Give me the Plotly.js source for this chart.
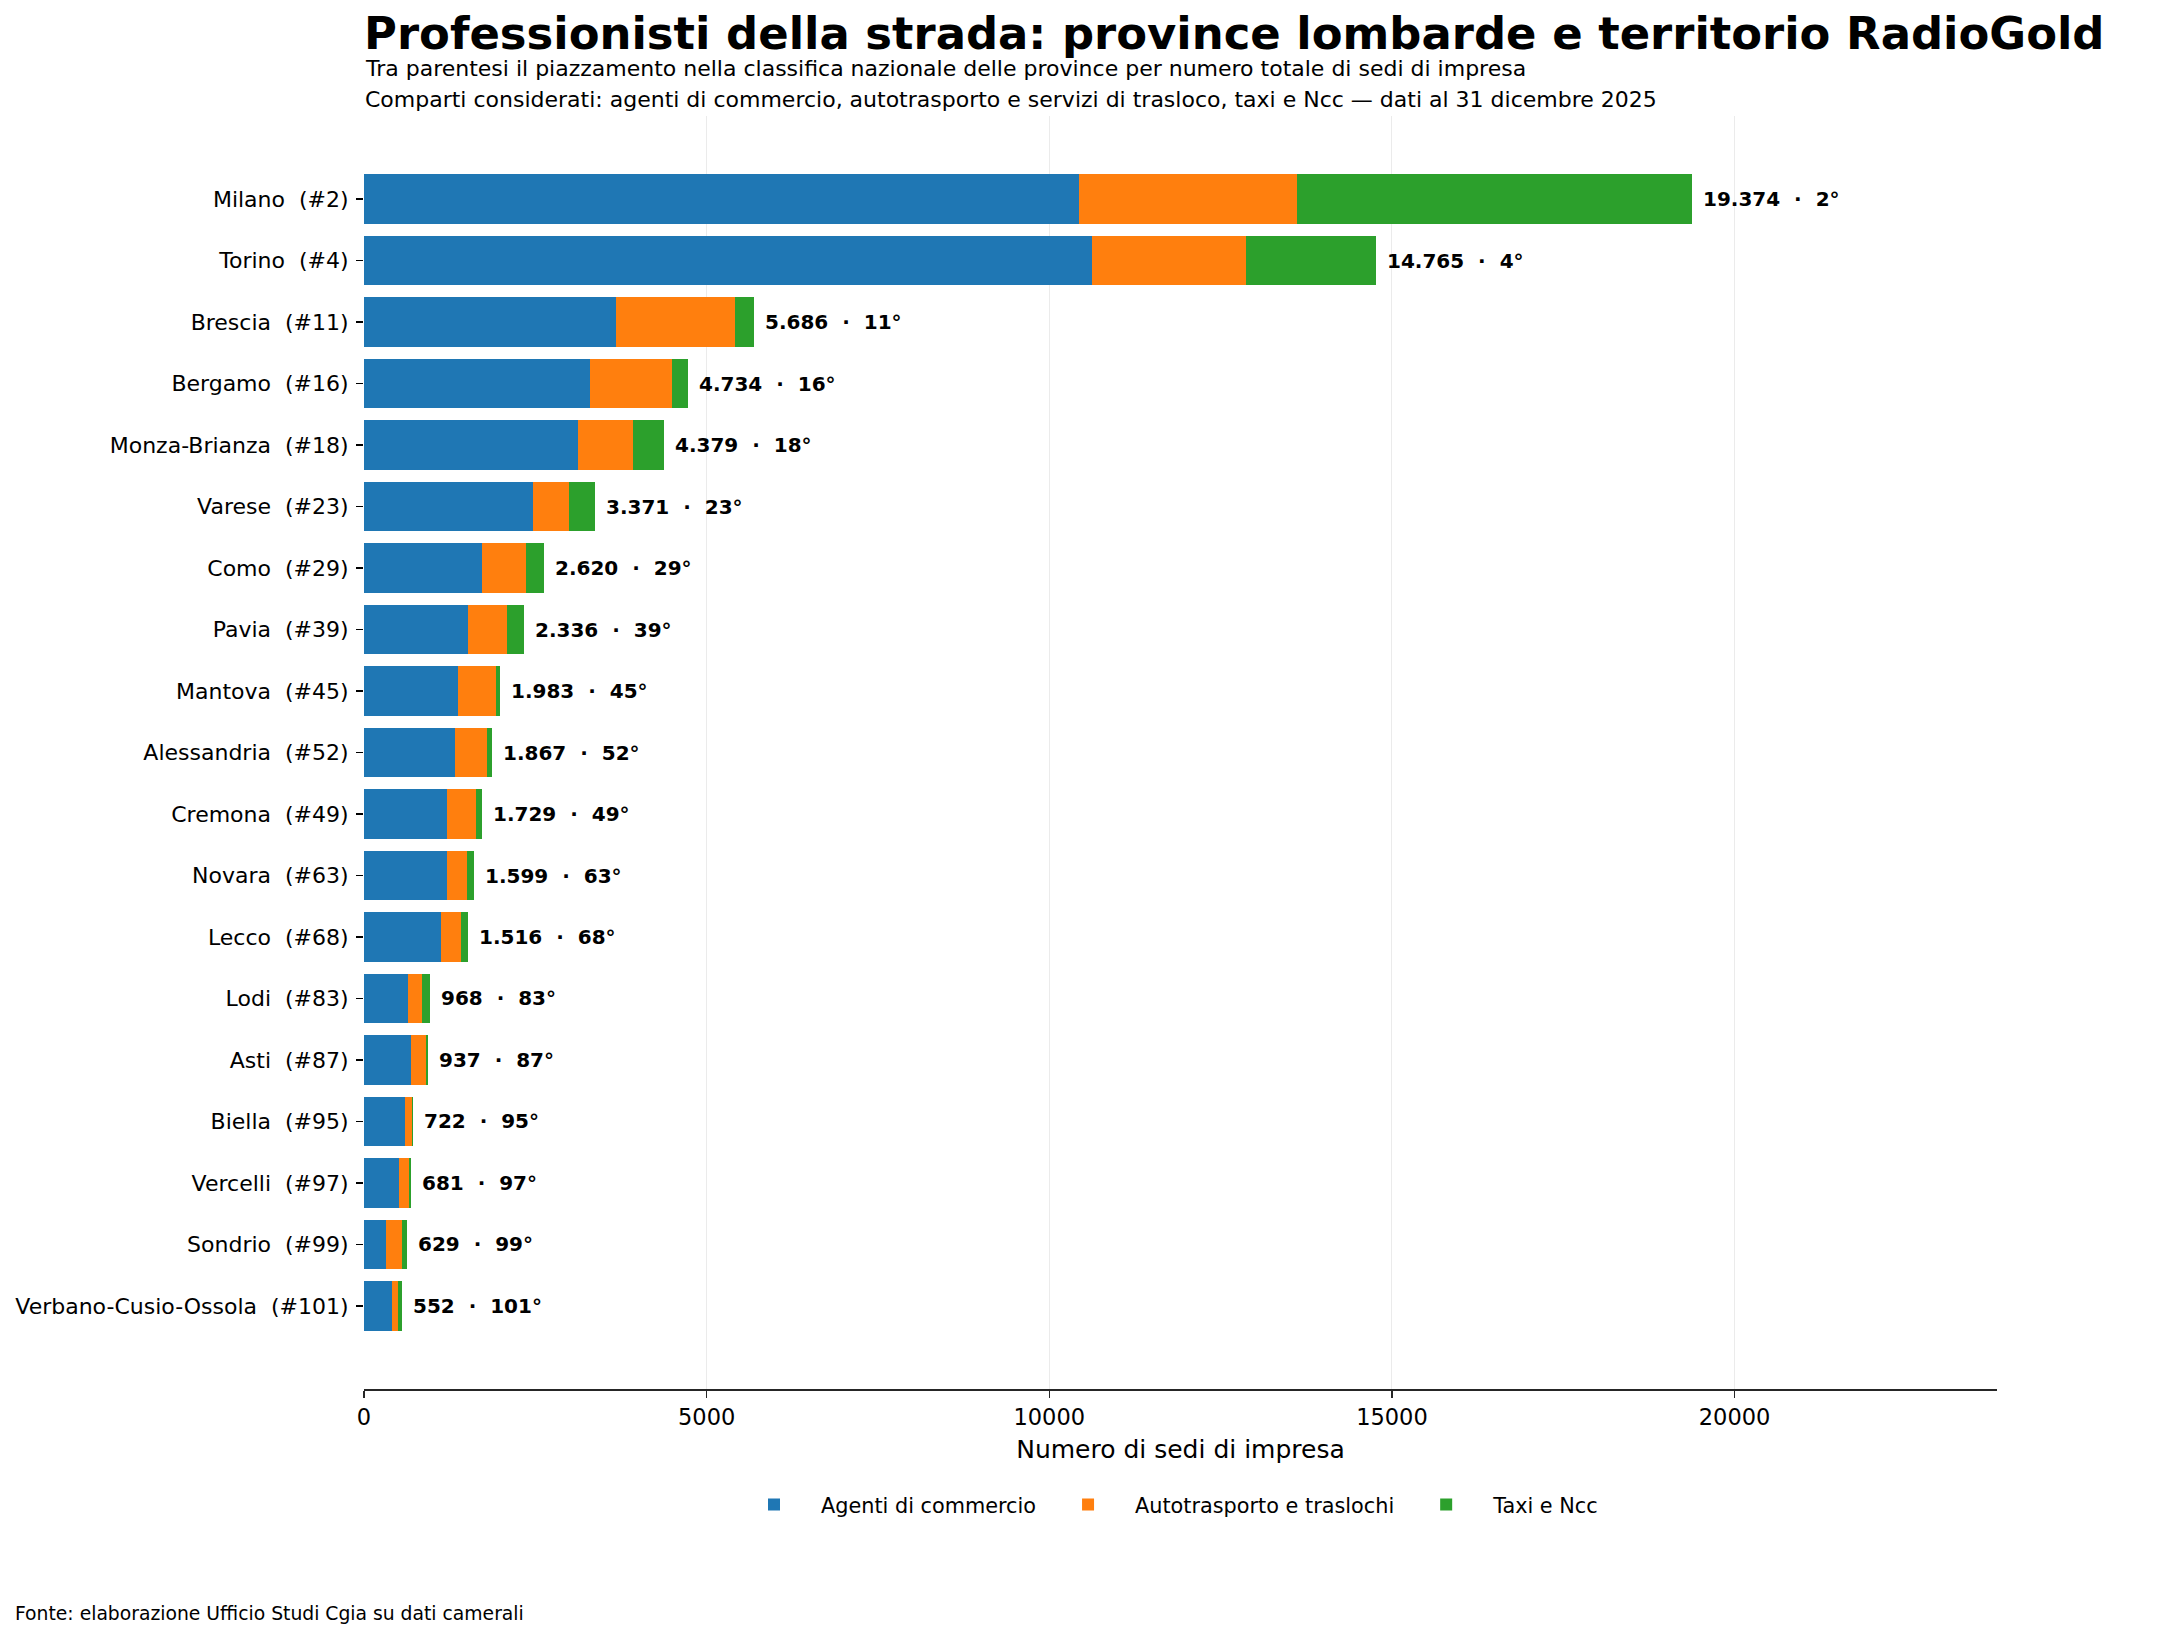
<!DOCTYPE html>
<html>
<head>
<meta charset="utf-8">
<script src="https://cdn.plot.ly/plotly-3.0.1.min.js"></script>
<style>
  html, body { margin: 0; padding: 0; background: #ffffff; }
  #chart { width: 2159px; height: 1638px; }
</style>
</head>
<body>
<div id="chart"></div>
<script>
// ---- Data ----
const provinces = ["Milano", "Torino", "Brescia", "Bergamo", "Monza-Brianza", "Varese", "Como", "Pavia",
  "Mantova", "Alessandria", "Cremona", "Novara", "Lecco", "Lodi", "Asti", "Biella", "Vercelli",
  "Sondrio", "Verbano-Cusio-Ossola"];
const nationalRank = [2, 4, 11, 16, 18, 23, 29, 39, 45, 52, 49, 63, 68, 83, 87, 95, 97, 99, 101];
const agentiCommercio = [10440, 10620, 3676, 3300, 3130, 2460, 1720, 1524, 1372, 1328, 1212, 1212, 1124, 642, 686, 599, 511, 321, 409];
const autotrasporto = [3180, 2248, 1740, 1199, 797, 530, 642, 559, 555, 468, 423, 292, 292, 205, 219, 102, 146, 234, 87];
const taxiNcc = [5754, 1897, 270, 235, 452, 381, 258, 253, 56, 71, 94, 95, 100, 121, 32, 21, 24, 74, 56];
const totals = [19374, 14765, 5686, 4734, 4379, 3371, 2620, 2336, 1983, 1867, 1729, 1599, 1516, 968, 937, 722, 681, 629, 552];
const seriesNames = ["Agenti di commercio", "Autotrasporto e traslochi", "Taxi e Ncc"];
const xTickValues = [0, 5000, 10000, 15000, 20000];

// ---- Text ----
const titleText = "Professionisti della strada: province lombarde e territorio RadioGold";
const subtitle1 = "Tra parentesi il piazzamento nella classifica nazionale delle province per numero totale di sedi di impresa";
const subtitle2 = "Comparti considerati: agenti di commercio, autotrasporto e servizi di trasloco, taxi e Ncc \u2014 dati al 31 dicembre 2025";
const xTitle = "Numero di sedi di impresa";
const sourceText = "Fonte: elaborazione Ufficio Studi Cgia su dati camerali";

// ---- Build ----
const NB = "\u00a0";
const yLabels = provinces.map((p, i) => p + NB + NB + "(#" + nationalRank[i] + ")");
const fmtIt = v => String(v).replace(/\B(?=(\d{3})+(?!\d))/g, ".");
const colors = ["#1f77b4", "#ff7f0e", "#2ca02c"];
const FONT = "DejaVu Sans, Verdana, sans-serif";

const seriesValues = [agentiCommercio, autotrasporto, taxiNcc];
const traces = seriesValues.map((vals, k) => ({
  type: "bar",
  orientation: "h",
  name: seriesNames[k],
  x: vals,
  y: yLabels,
  width: 0.8,
  marker: { color: colors[k], line: { width: 0 } },
  hoverinfo: "x+y+name"
}));

// plot area in pixels
const W = 2159, H = 1638;
const L = 364, R = 1997, T = 116, B = 1389;
const PH = B - T, PW = R - L;
const py = yPix => 1 + (T - yPix) / PH;   // pixel -> paper y
const px = xPix => (xPix - L) / PW;        // pixel -> paper x

const annotations = totals.map((t, i) => ({
  x: t, y: yLabels[i], xref: "x", yref: "y",
  text: "<b>" + fmtIt(t) + NB + NB + "\u00b7" + NB + NB + nationalRank[i] + "\u00b0</b>",
  showarrow: false, xanchor: "left", yanchor: "middle", xshift: 9,
  font: { family: FONT, size: 20, color: "#000000" }
}));

annotations.push(
  { xref: "paper", yref: "paper", x: px(364), y: py(68.5), xanchor: "left", yanchor: "middle",
    text: subtitle1, showarrow: false, borderpad: 0,
    font: { family: FONT, size: 22, color: "#000000" } },
  { xref: "paper", yref: "paper", x: px(364), y: py(99), xanchor: "left", yanchor: "middle",
    text: subtitle2, showarrow: false, borderpad: 0,
    font: { family: FONT, size: 22, color: "#000000" } },
  { xref: "paper", yref: "paper", x: px(14), y: py(1613), xanchor: "left", yanchor: "middle",
    text: sourceText, showarrow: false, borderpad: 0,
    font: { family: FONT, size: 18.75, color: "#000000" } }
);

const layout = {
  width: W, height: H,
  paper_bgcolor: "#ffffff", plot_bgcolor: "#ffffff",
  margin: { l: L, r: W - R, t: T, b: H - B, pad: 0 },
  barmode: "stack",
  font: { family: FONT, color: "#000000" },
  title: {
    text: "<b>" + titleText + "</b>",
    xref: "container", yref: "container",
    x: 364 / W, xanchor: "left",
    y: 1 - 33 / H, yanchor: "middle",
    font: { family: FONT, size: 44.9, color: "#000000" }
  },
  xaxis: {
    range: [0, 23830],
    tickvals: xTickValues,
    tickformat: "d",
    showgrid: true, gridcolor: "#ebebeb", gridwidth: 1,
    zeroline: false,
    showline: true, linecolor: "#262626", linewidth: 1.6,
    ticks: "outside", ticklen: 7, tickwidth: 1.2, tickcolor: "#262626",
    tickfont: { family: FONT, size: 22.5, color: "#000000" },
    title: { text: xTitle, standoff: 12, font: { family: FONT, size: 25, color: "#000000" } },
    fixedrange: true
  },
  yaxis: {
    type: "category",
    categoryorder: "array", categoryarray: yLabels,
    range: [18 + 1.35, -1.35],
    showgrid: false, zeroline: false, showline: false,
    ticks: "outside", ticklen: 7, tickwidth: 1.2, tickcolor: "#000000",
    ticklabelstandoff: 3,
    tickfont: { family: FONT, size: 22, color: "#000000" },
    fixedrange: true
  },
  legend: {
    orientation: "h",
    x: 0.5 - 15 / PW, xanchor: "center",
    y: py(1505), yanchor: "middle",
    font: { family: FONT, size: 20.8, color: "#000000" },
    traceorder: "normal",
    itemwidth: 84
  },
  showlegend: true,
  annotations: annotations
};

Plotly.newPlot("chart", traces, layout, { staticPlot: true, displayModeBar: false });
</script>
</body>
</html>
